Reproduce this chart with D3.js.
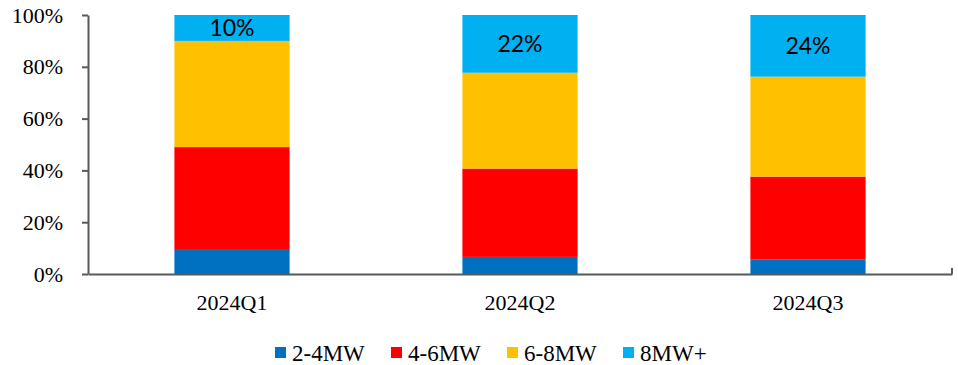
<!DOCTYPE html>
<html>
<head>
<meta charset="utf-8">
<script src="https://cdn.jsdelivr.net/npm/d3@7"></script>
<style>
  body { margin: 0; background: #fff; }
  svg text { fill: #000; }
</style>
</head>
<body>
<div class="chart"></div>
<script>
// categories, series and values (percent share)
const quarters = ['2024Q1', '2024Q2', '2024Q3'];
const seriesNames = ['2-4MW', '4-6MW', '6-8MW', '8MW+'];
const seriesColors = ['#0070C0', '#FF0000', '#FFC000', '#00B0F0'];
const mw2to4 = [9.3, 6.6, 5.7];
const mw4to6 = [39.7, 34.1, 31.9];
const mw6to8 = [41.0, 37.0, 38.6];
const mw8plus = [10.0, 22.3, 23.8];
const topLabels = ['10%', '22%', '24%'];
const yTicks = [0, 20, 40, 60, 80, 100];

const width = 958, height = 365;
const margin = {top: 15, right: 6, bottom: 91, left: 88};
const innerW = width - margin.left - margin.right;
const innerH = height - margin.top - margin.bottom;

const rows = quarters.map((q, i) => ({
    quarter: q,
    '2-4MW': mw2to4[i], '4-6MW': mw4to6[i], '6-8MW': mw6to8[i], '8MW+': mw8plus[i]
}));
const stacked = d3.stack().keys(seriesNames)(rows);

const x = d3.scaleBand().domain(quarters).range([0, innerW]).paddingInner(0.6).paddingOuter(0.3);
const y = d3.scaleLinear().domain([0, 100]).range([innerH, 0]);
const color = d3.scaleOrdinal().domain(seriesNames).range(seriesColors);

const svg = d3.select('.chart').append('svg')
    .attr('width', width)
    .attr('height', height)
    .append('g')
    .attr('transform', 'translate(' + margin.left + ',' + margin.top + ')');

// bars
svg.selectAll('.series')
    .data(stacked)
    .enter().append('g')
    .attr('class', 'series')
    .attr('fill', d => color(d.key))
    .selectAll('rect')
    .data(d => d)
    .enter().append('rect')
    .attr('x', d => x(d.data.quarter))
    .attr('y', d => y(d[1]))
    .attr('width', x.bandwidth())
    .attr('height', d => y(d[0]) - y(d[1]));

// labels on the top segment
const topSeries = stacked[stacked.length - 1];
svg.selectAll('.toplabel')
    .data(topSeries)
    .enter().append('text')
    .attr('class', 'toplabel')
    .attr('x', d => x(d.data.quarter) + x.bandwidth() / 2)
    .attr('y', d => (y(d[0]) + y(d[1])) / 2)
    .attr('dy', '0.36em')
    .attr('text-anchor', 'middle')
    .style('font-family', 'Lato, "Open Sans", sans-serif')
    .style('font-size', '23px')
    .text((d, i) => topLabels[i]);

// y axis
const yAxis = svg.append('g')
    .attr('class', 'y axis')
    .call(d3.axisLeft(y).tickValues(yTicks).tickFormat(d => d + '%').tickSize(6).tickSizeOuter(0));
yAxis.selectAll('text')
    .attr('x', -25)
    .style('font-family', '"Liberation Serif", "Times New Roman", serif')
    .style('font-size', '22px');

// x axis
const xAxis = svg.append('g')
    .attr('class', 'x axis')
    .attr('transform', 'translate(0,' + innerH + ')')
    .call(d3.axisBottom(x).tickSize(0).tickSizeOuter(0));
xAxis.selectAll('text')
    .attr('y', 20)
    .attr('dy', '0.71em')
    .style('font-family', '"Liberation Serif", "Times New Roman", serif')
    .style('font-size', '22px');
xAxis.append('line')
    .attr('x1', innerW).attr('x2', innerW)
    .attr('y1', 0).attr('y2', -6);

svg.selectAll('.axis path, .axis line')
    .attr('stroke', '#595959')
    .attr('stroke-width', 2);

// legend
const legend = svg.append('g')
    .attr('transform', 'translate(' + (275 - margin.left) + ',' + (347 - margin.top) + ')');
const item = legend.selectAll('.item')
    .data(seriesNames)
    .enter().append('g')
    .attr('class', 'item')
    .attr('transform', (d, i) => 'translate(' + (i * 116) + ',0)');
item.append('rect')
    .attr('width', 11)
    .attr('height', 11)
    .attr('fill', d => color(d));
item.append('text')
    .attr('x', 17)
    .attr('y', 5.5)
    .attr('dy', '0.35em')
    .style('font-family', '"Liberation Serif", "Times New Roman", serif')
    .style('font-size', '23px')
    .text(d => d);
</script>
</body>
</html>
